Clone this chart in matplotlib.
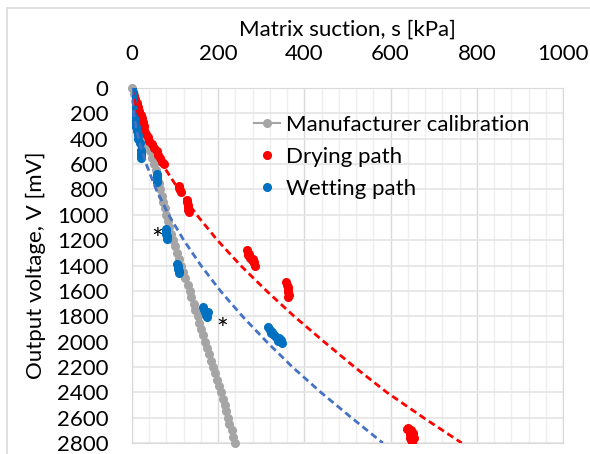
import numpy as np
import matplotlib.pyplot as plt
from matplotlib.patches import Rectangle

plt.rcParams['font.family'] = ['Lato', 'DejaVu Sans']

# ---- data (suction in kPa, output in mV) ----
calib_mv = [0, 50, 100, 150, 200, 250, 300, 350, 400, 450, 500, 550, 600, 650, 700,
            750, 800, 850, 900, 950, 1000, 1050, 1100, 1150, 1200, 1250, 1300, 1350,
            1400, 1450, 1500, 1550, 1600, 1650, 1700, 1750, 1800, 1850, 1900, 1950,
            2000, 2050, 2100, 2150, 2200, 2250, 2300, 2350, 2400, 2450, 2500, 2550,
            2600, 2650, 2700, 2750, 2800]
calib_kpa = [0, 4, 8, 12, 15, 19, 23, 27, 31, 36, 41, 46, 51, 55, 59,
             63, 66, 69, 73, 76, 80, 84, 87, 91, 95, 100, 104, 109,
             114, 119, 124, 129, 134, 138, 143, 147, 152, 156, 160, 165,
             169, 174, 178, 183, 188, 193, 197, 202, 207, 211, 215, 218,
             222, 226, 231, 235, 239]

dry_kpa = [0, 2, 5, 8, 11, 14, 17, 20, 23, 25, 27, 29, 32, 36, 40, 46, 52, 57, 61, 66, 70, 74,
           108, 110, 112, 113,
           127, 128, 129, 130, 131, 132,
           266, 268, 270, 272, 274, 278, 280, 282, 286, 284,
           357, 359, 361, 362, 363, 364, 362,
           638, 640, 642, 644, 645, 646, 648, 650, 652, 654, 648]
dry_mv = [0, 30, 60, 90, 120, 150, 180, 210, 240, 270, 300, 330, 360, 390, 420, 445, 475, 500, 525, 555, 580, 600,
          775, 790, 805, 820,
          880, 900, 920, 940, 960, 980,
          1280, 1300, 1320, 1310, 1340, 1360, 1350, 1380, 1400, 1370,
          1530, 1550, 1570, 1590, 1610, 1630, 1645,
          2690, 2680, 2700, 2720, 2740, 2760, 2780, 2800, 2720, 2760, 2700]

wet_kpa = [1, 2, 3, 2, 3, 4, 5, 6, 7, 9, 11, 13, 15, 18, 20, 21, 22, 22,
           57, 58, 59, 59, 78, 79, 80, 81, 81, 105, 106, 107, 108, 108,
           165, 168, 170, 172, 174, 176, 315, 320, 322, 325, 330, 335, 338, 340, 345, 348]
wet_mv = [10, 40, 70, 100, 160, 190, 220, 250, 280, 310, 340, 370, 400, 430, 490, 510, 530, 550,
          680, 700, 720, 740, 1110, 1130, 1150, 1170, 1190, 1385, 1405, 1425, 1445, 1460,
          1730, 1750, 1770, 1790, 1810, 1770, 1885, 1905, 1930, 1925, 1945, 1960, 1995, 1975, 1990, 2010]

# fitted trend lines
fit_mv = [0, 100, 200, 300, 400, 600, 800, 1000, 1200, 1400, 1600, 1800, 2000, 2200, 2400, 2600, 2800]
dry_fit_kpa = [0, 6, 14, 25, 38, 70, 108, 150, 198, 252, 312, 376, 445, 516, 591, 676, 765]
wet_fit_kpa = [0, 1, 4, 9, 15, 33, 56, 85, 120, 160, 205, 256, 312, 372, 438, 509, 582]

# points marked with an asterisk
star_kpa = [58, 209]
star_mv = [1154, 1866]

# ---- figure ----
fig = plt.figure(figsize=(5.9, 4.54), dpi=100)
ax = fig.add_axes([132 / 590, 1 - 443 / 454, (563 - 132) / 590, (443 - 88) / 454])

# chart area border (Excel style)
fig.patches.append(Rectangle((7 / 590, -0.1), 1.2, 1.1 - 8 / 454, transform=fig.transFigure,
                             fill=False, edgecolor='#D9D9D9', linewidth=1.2))

ax.plot(calib_kpa, calib_mv, '-o', color='#A5A5A5', lw=1.5, ms=5.5, clip_on=False,
        zorder=3, label='Manufacturer calibration')
ax.plot(dry_kpa, dry_mv, 'o', color='#FF0000', ms=5.5, zorder=4, label='Drying path')
ax.plot(wet_kpa, wet_mv, 'o', color='#0070C0', ms=5.5, zorder=5, label='Wetting path')
ax.plot(dry_fit_kpa, fit_mv, '--', color='#FF0000', lw=2, dashes=(2.5, 1.5), zorder=6)
ax.plot(wet_fit_kpa, fit_mv, '--', color='#4472C4', lw=2, dashes=(2.5, 1.5), zorder=6)

for sx, sy in zip(star_kpa, star_mv):
    ax.text(sx, sy + 50, '*', fontsize=20, ha='center', va='center', zorder=7)

ax.set_xlim(0, 1000)
ax.set_ylim(2800, 0)
ax.xaxis.tick_top()
ax.xaxis.set_label_position('top')
ax.set_xticks(np.arange(0, 1001, 200))
ax.set_xticks(np.arange(0, 1001, 40), minor=True)
ax.set_yticks(np.arange(0, 2801, 200))
ax.tick_params(which='both', length=0, labelsize=16)
ax.tick_params(axis='x', pad=17)
ax.tick_params(axis='y', pad=17)

ax.grid(which='minor', axis='x', color='#EFEFEF', lw=1)
ax.grid(which='major', axis='x', color='#D9D9D9', lw=1)
ax.grid(which='major', axis='y', color='#E4E4E4', lw=1.2)
ax.set_axisbelow(True)
for sp in ax.spines.values():
    sp.set_color('#D9D9D9')

ax.set_xlabel('Matrix suction, s [kPa]', fontsize=16, labelpad=6)
ax.set_ylabel('Output voltage, V [mV]', fontsize=16, labelpad=8)

ax.legend(loc='upper left', bbox_to_anchor=(0.282, 0.925), frameon=False, fontsize=16,
          handlelength=1.2, handletextpad=0.25, labelspacing=0.55, borderpad=0,
          borderaxespad=0)

fig.savefig('out.png', dpi=100)
